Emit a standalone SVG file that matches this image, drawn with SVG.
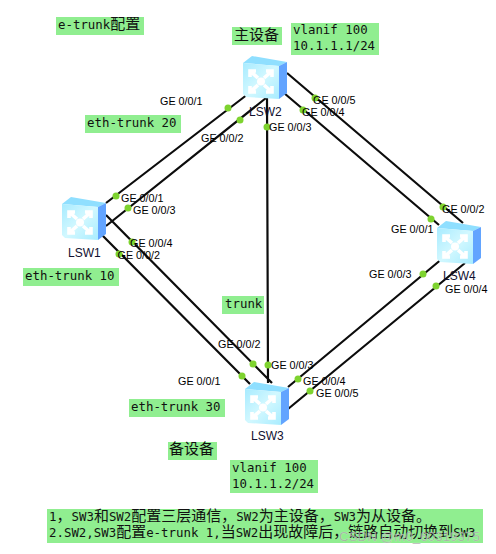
<svg xmlns="http://www.w3.org/2000/svg" width="496" height="554" viewBox="0 0 496 554">
<style>
.lk{stroke:#0c0c0c;stroke-width:2.200;fill:none}
.dot{fill:#7ed32f}
.p{font:10.8px "Liberation Sans",Arial,sans-serif;fill:#000}
.n{font:12px "Liberation Sans",Arial,sans-serif;fill:#101030}
.b{fill:#90ee90}
.t{font:12.4px "DejaVu Sans Mono","Noto Sans CJK SC",monospace;fill:#111}
.c{font:15px "Noto Sans CJK SC",sans-serif;fill:#111}
.w{font:13.400px "Liberation Sans",sans-serif;fill:#9a9a9a;fill-opacity:.8;stroke:#fff;stroke-opacity:.35;stroke-width:.5}
.a{fill:none;stroke:#fff;stroke-width:3.600}
</style>
<defs>
<linearGradient id="f" x1="0" y1="0" x2="1" y2="1"><stop offset="0" stop-color="#a8ebff"/><stop offset=".5" stop-color="#d2f8ff"/><stop offset="1" stop-color="#a8ecff"/></linearGradient>
<g id="sw">
<path d="M0 7 9 0 44 6 36 10Z" fill="#8fdfff"/>
<path d="M36 10 44 6V37L36 43Z" fill="#62a4ff"/>
<path d="M0 7 36 10V43L3 41 0 38Z" fill="url(#f)"/>
<g class="a"><path d="M7 15 15 22M7 21V15H13"/><path d="M29 15 21 22M29 21V15H23"/><path d="M7 36 15 29M7 30V36H13"/><path d="M29 36 21 29M29 30V36H23"/></g>
<circle cx="18" cy="25.500" r="4" fill="#fff"/>
</g>
</defs>
<g id="connectors">
<path class="lk" d="M106 203 248 94M106 226 266 98M267 98 268 383M287 73 463 223M284 93 439 225M443 258 288 387M465 263 288 409M106 215 272 383M102 235 250 384"/>
<g class="dot">
<circle cx="116" cy="196" r="3.500"/><circle cx="128" cy="208" r="3.500"/><circle cx="132" cy="242" r="3.500"/><circle cx="119" cy="254" r="3.500"/><circle cx="228" cy="108" r="3.500"/><circle cx="240" cy="120" r="3.500"/><circle cx="315" cy="98" r="3.500"/><circle cx="303" cy="110" r="3.500"/><circle cx="267" cy="127" r="3.500"/><circle cx="443" cy="207" r="3.500"/><circle cx="431" cy="219" r="3.500"/><circle cx="423" cy="274" r="3.500"/><circle cx="436" cy="286" r="3.500"/><circle cx="253" cy="364" r="3.500"/><circle cx="268" cy="365" r="3.500"/><circle cx="242" cy="376" r="3.500"/><circle cx="298" cy="379" r="3.500"/><circle cx="310" cy="391" r="3.500"/>
</g>
<g class="p">
<text x="160" y="105">GE 0/0/1</text><text x="201" y="142">GE 0/0/2</text><text x="121" y="202">GE 0/0/1</text><text x="133" y="214">GE 0/0/3</text><text x="130" y="247">GE 0/0/4</text><text x="117.500" y="259">GE 0/0/2</text>
<text x="313" y="104">GE 0/0/5</text><text x="302" y="116">GE 0/0/4</text><text x="269" y="131">GE 0/0/3</text><text x="442" y="213">GE 0/0/2</text><text x="391" y="233">GE 0/0/1</text><text x="369" y="278">GE 0/0/3</text><text x="445" y="293">GE 0/0/4</text>
<text x="218" y="348">GE 0/0/2</text><text x="271" y="369">GE 0/0/3</text><text x="178" y="385">GE 0/0/1</text><text x="303" y="385">GE 0/0/4</text><text x="316" y="397">GE 0/0/5</text>
</g>
</g>
<g id="LSW1"><use href="#sw" x="62" y="197"/><text class="n" x="68" y="257">LSW1</text></g>
<g id="LSW2"><use href="#sw" x="243" y="56"/><text class="n" x="249" y="116">LSW2</text></g>
<g id="LSW3"><use href="#sw" x="245" y="382"/><text class="n" x="251" y="440">LSW3</text></g>
<g id="LSW4"><use href="#sw" x="437" y="221"/><text class="n" x="443" y="280">LSW4</text></g>
<g id="note-etrunk"><rect class="b" x="56" y="17" width="88" height="18"/><text class="t" x="58" y="29">e-trunk<tspan class="c">配置</tspan></text></g>
<g id="note-main"><rect class="b" x="232" y="27" width="50" height="18"/><text class="c" x="234" y="40">主设备</text></g>
<g id="note-vlan1"><rect class="b" x="291" y="23" width="88" height="32"/><text class="t" x="293" y="34">vlanif 100</text><text class="t" x="293" y="50">10.1.1.1/24</text></g>
<g id="note-et20"><rect class="b" x="85" y="115" width="96" height="18"/><text class="t" x="87" y="127">eth-trunk 20</text></g>
<g id="note-et10"><rect class="b" x="23" y="268" width="96" height="18"/><text class="t" x="25" y="280">eth-trunk 10</text></g>
<g id="note-trunk"><rect class="b" x="222" y="296" width="42" height="18"/><text class="t" x="225" y="308">trunk</text></g>
<g id="note-et30"><rect class="b" x="129" y="399" width="96" height="18"/><text class="t" x="131" y="411">eth-trunk 30</text></g>
<g id="note-backup"><rect class="b" x="168" y="442" width="49" height="18"/><text class="c" x="169" y="454">备设备</text></g>
<g id="note-vlan2"><rect class="b" x="230" y="460" width="88" height="33"/><text class="t" x="232" y="472">vlanif 100</text><text class="t" x="232" y="488">10.1.1.2/24</text></g>
<g id="note-desc"><rect class="b" x="47" y="509" width="436" height="34"/>
<text class="t" x="49" y="521">1<tspan class="c">，</tspan>SW3<tspan class="c">和</tspan>SW2<tspan class="c">配置三层通信，</tspan>SW2<tspan class="c">为主设备，</tspan>SW3<tspan class="c">为从设备。</tspan></text>
<text class="t" x="49" y="537">2.SW2,SW3<tspan class="c">配置</tspan>e-trunk 1,<tspan class="c">当</tspan>SW2<tspan class="c">出现故障后，链路自动切换到</tspan>SW3</text></g>
<text class="w" x="339" y="541">CSDN @m0_60319375</text>
</svg>
